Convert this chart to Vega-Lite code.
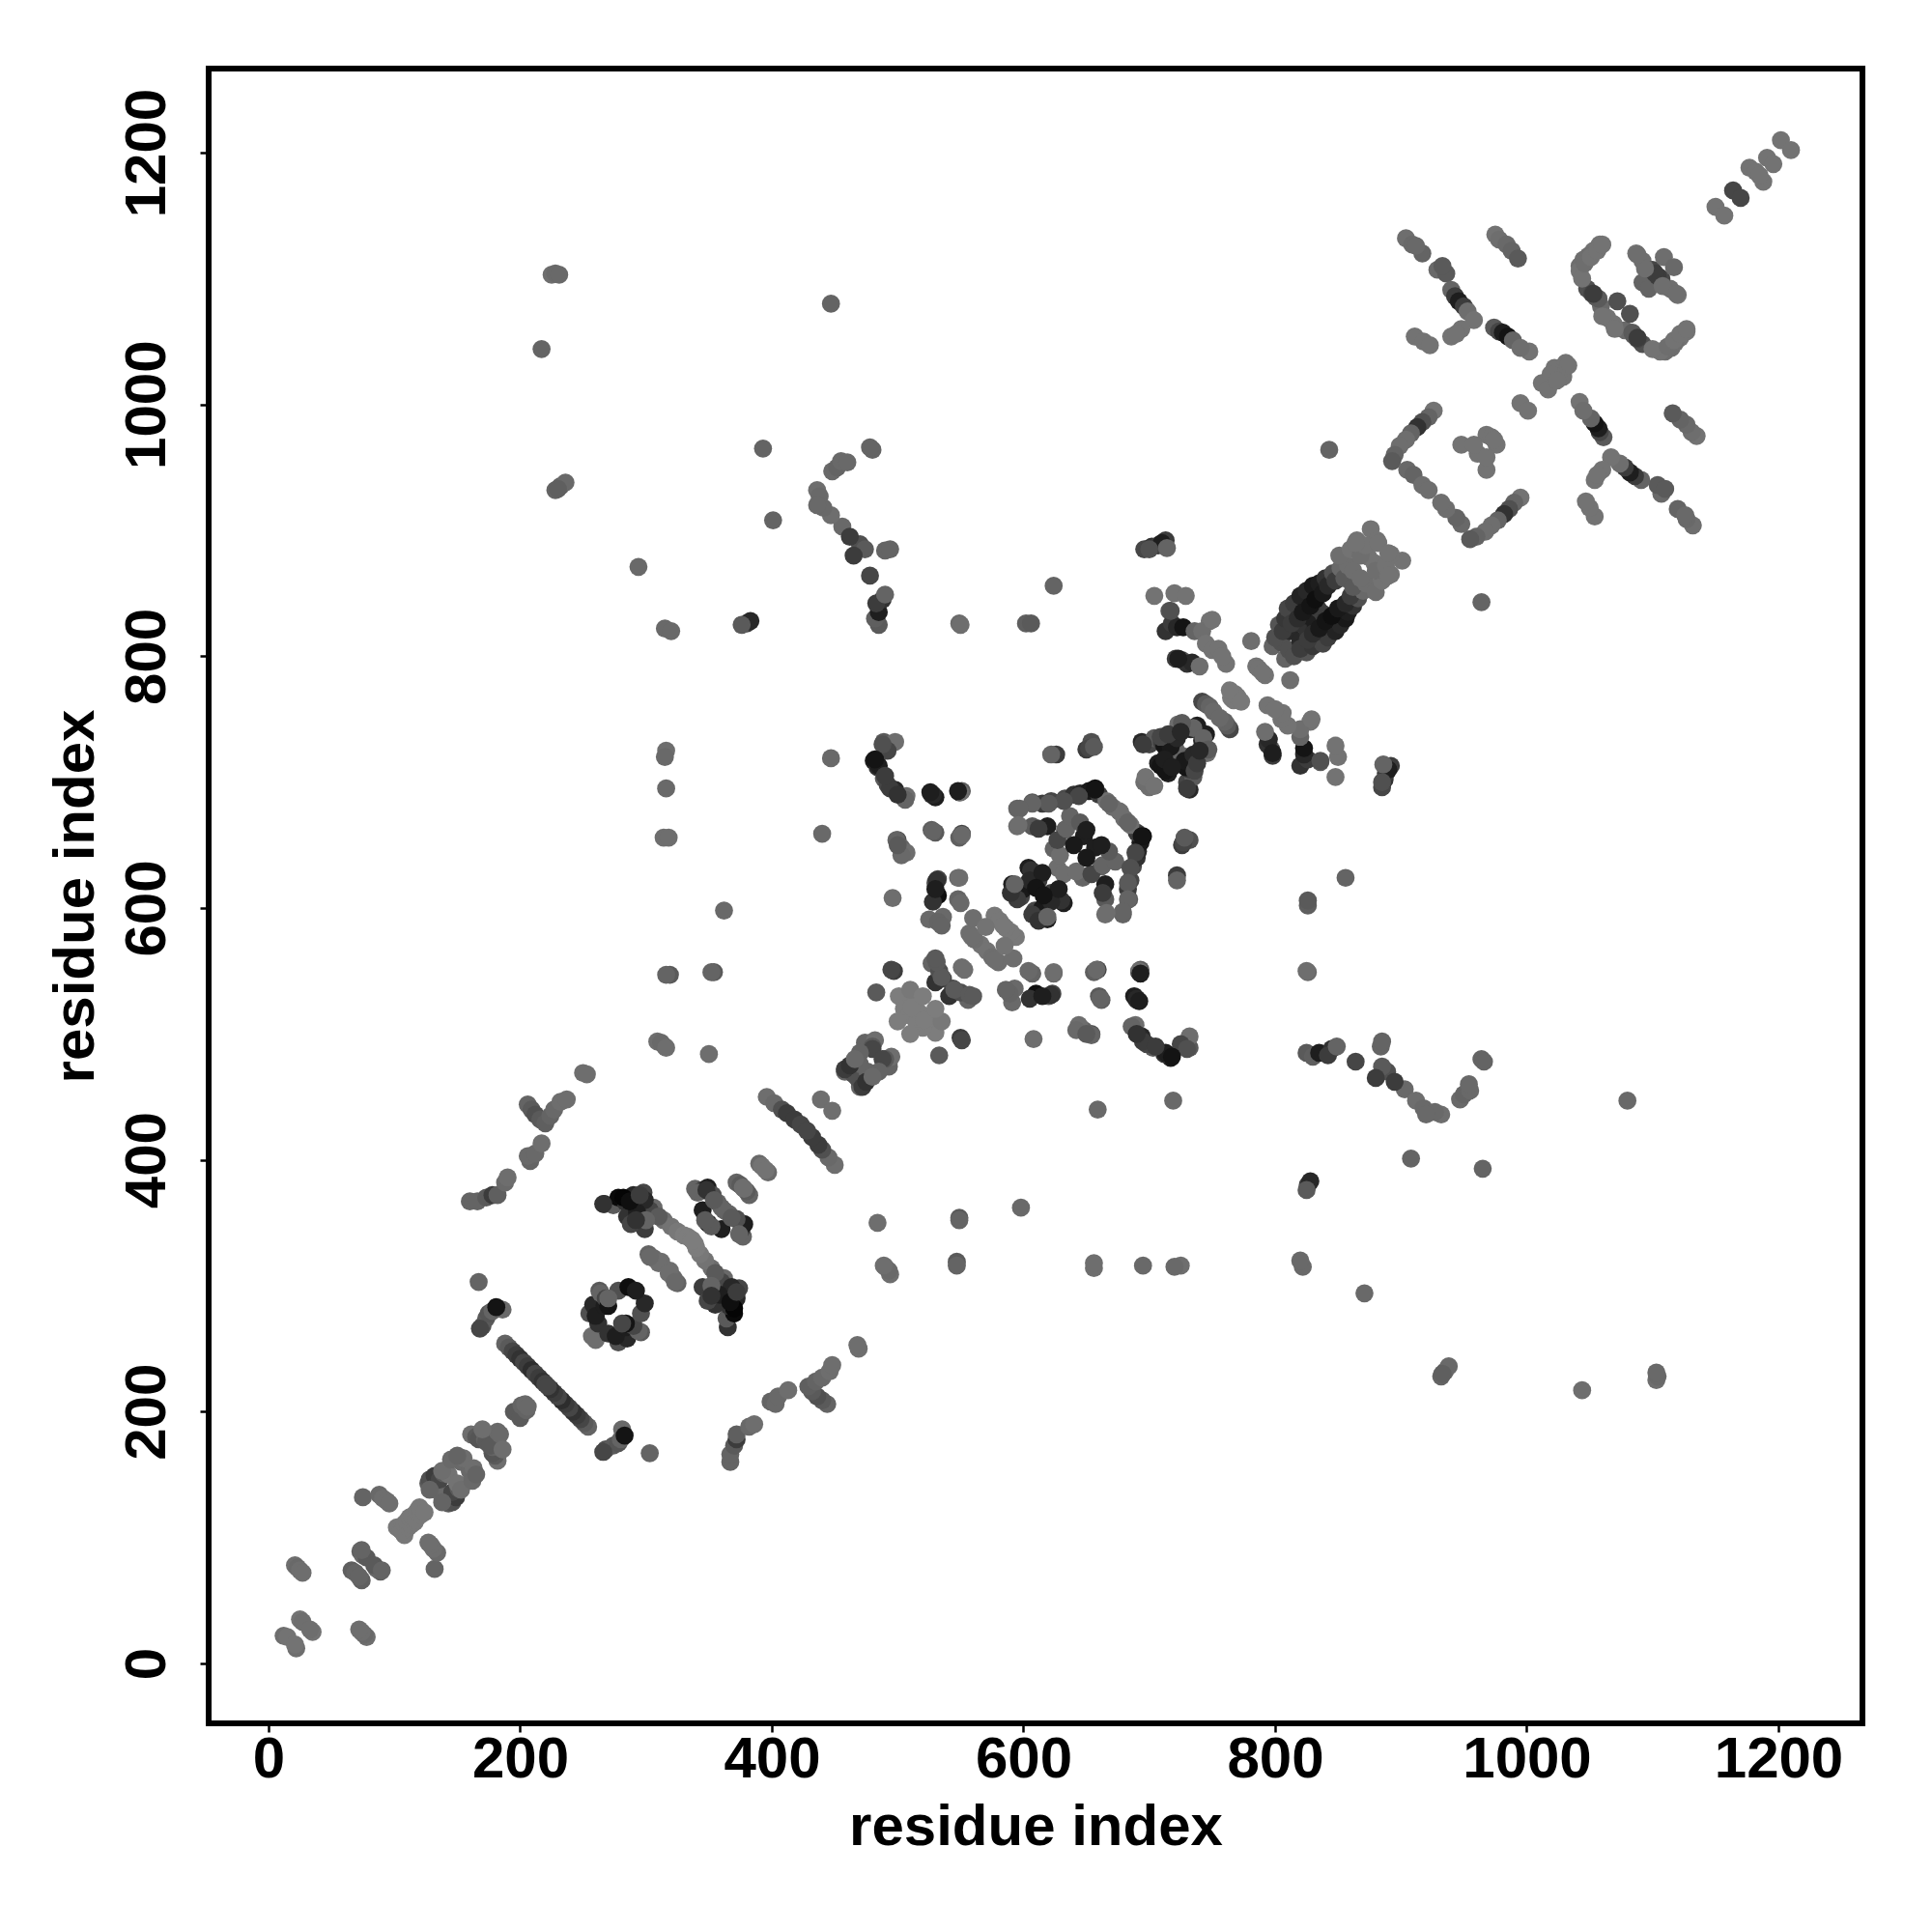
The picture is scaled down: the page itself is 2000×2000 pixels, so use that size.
{"$schema":"https://vega.github.io/schema/vega-lite/v6.json","autosize":"none","padding":{"left":216,"top":71,"right":72,"bottom":216},"width":1712,"height":1713,"background":"white","config":{"view":{"stroke":"#000000","strokeWidth":6},"axis":{"grid":false,"domain":false,"ticks":true,"tickColor":"#000000","tickWidth":2.5,"tickSize":9,"labelFont":"Liberation Sans","labelFontWeight":"bold","labelFontSize":60,"labelColor":"#000000","titleFont":"Liberation Sans","titleFontWeight":"bold","titleFontSize":60,"titleColor":"#000000"}},"data":{"values":[
{"x":12,"y":22,"g":110},{"x":22,"y":12,"g":110},{"x":15,"y":21,"g":115},{"x":21,"y":15,"g":115},{"x":25,"y":35,"g":115},{"x":35,"y":25,"g":115},{"x":27,"y":33,"g":110},{"x":33,"y":27,"g":110},
{"x":21,"y":78,"g":110},{"x":78,"y":21,"g":110},{"x":23,"y":76,"g":105},{"x":76,"y":23,"g":105},{"x":25,"y":74,"g":110},{"x":74,"y":25,"g":110},{"x":27,"y":72,"g":110},{"x":72,"y":27,"g":110},
{"x":66,"y":74,"g":95},{"x":74,"y":66,"g":95},{"x":69,"y":72,"g":100},{"x":72,"y":69,"g":100},{"x":73,"y":89,"g":95},{"x":89,"y":73,"g":95},{"x":75,"y":86,"g":105},{"x":86,"y":75,"g":105},{"x":78,"y":84,"g":90},{"x":84,"y":78,"g":90},{"x":74,"y":90,"g":100},{"x":90,"y":74,"g":100},
{"x":75,"y":132,"g":100},{"x":132,"y":75,"g":100},{"x":88,"y":134,"g":105},{"x":134,"y":88,"g":105},{"x":91,"y":131,"g":110},{"x":131,"y":91,"g":110},{"x":94,"y":129,"g":110},{"x":129,"y":94,"g":110},{"x":96,"y":127,"g":110},{"x":127,"y":96,"g":110},
{"x":102,"y":108,"g":120},{"x":108,"y":102,"g":120},{"x":105,"y":106,"g":120},{"x":106,"y":105,"g":120},{"x":108,"y":111,"g":120},{"x":111,"y":108,"g":120},{"x":110,"y":113,"g":120},{"x":113,"y":110,"g":120},{"x":112,"y":116,"g":120},{"x":116,"y":112,"g":120},{"x":114,"y":117,"g":120},{"x":117,"y":114,"g":120},{"x":118,"y":121,"g":120},{"x":121,"y":118,"g":120},{"x":120,"y":124,"g":120},{"x":124,"y":120,"g":120},
{"x":127,"y":143,"g":90},{"x":143,"y":127,"g":90},{"x":130,"y":141,"g":100},{"x":141,"y":130,"g":100},{"x":128,"y":146,"g":80},{"x":146,"y":128,"g":80},{"x":135,"y":137,"g":105},{"x":137,"y":135,"g":105},{"x":132,"y":149,"g":60},{"x":149,"y":132,"g":60},{"x":136,"y":146,"g":70},{"x":146,"y":136,"g":70},{"x":139,"y":151,"g":90},{"x":151,"y":139,"g":90},{"x":143,"y":150,"g":115},{"x":150,"y":143,"g":115},{"x":128,"y":138,"g":100},{"x":138,"y":128,"g":100},{"x":138,"y":153,"g":110},{"x":153,"y":138,"g":110},
{"x":153,"y":160,"g":105},{"x":160,"y":153,"g":105},{"x":155,"y":163,"g":110},{"x":163,"y":155,"g":110},{"x":145,"y":162,"g":105},{"x":162,"y":145,"g":105},{"x":150,"y":165,"g":100},{"x":165,"y":150,"g":100},{"x":161,"y":182,"g":110},{"x":182,"y":161,"g":110},{"x":165,"y":180,"g":90},{"x":180,"y":165,"g":90},{"x":167,"y":178,"g":85},{"x":178,"y":167,"g":85},{"x":172,"y":178,"g":100},{"x":178,"y":172,"g":100},{"x":173,"y":176,"g":90},{"x":176,"y":173,"g":90},{"x":182,"y":184,"g":105},{"x":184,"y":182,"g":105},{"x":170,"y":186,"g":110},{"x":186,"y":170,"g":110},
{"x":195,"y":200,"g":90},{"x":200,"y":195,"g":90},{"x":201,"y":205,"g":100},{"x":205,"y":201,"g":100},{"x":204,"y":206,"g":105},{"x":206,"y":204,"g":105},
{"x":188,"y":254,"g":100},{"x":254,"y":188,"g":100},{"x":191,"y":251,"g":90},{"x":251,"y":191,"g":90},{"x":194,"y":248,"g":70},{"x":248,"y":194,"g":70},{"x":197,"y":245,"g":60},{"x":245,"y":197,"g":60},{"x":200,"y":242,"g":50},{"x":242,"y":200,"g":50},{"x":203,"y":239,"g":70},{"x":239,"y":203,"g":70},{"x":206,"y":236,"g":60},{"x":236,"y":206,"g":60},{"x":209,"y":233,"g":45},{"x":233,"y":209,"g":45},{"x":212,"y":230,"g":70},{"x":230,"y":212,"g":70},{"x":215,"y":227,"g":60},{"x":227,"y":215,"g":60},{"x":218,"y":224,"g":50},{"x":224,"y":218,"g":50},{"x":220,"y":222,"g":70},{"x":222,"y":220,"g":70},
{"x":170,"y":268,"g":80},{"x":268,"y":170,"g":80},{"x":173,"y":274,"g":90},{"x":274,"y":173,"g":90},{"x":175,"y":278,"g":85},{"x":278,"y":175,"g":85},{"x":178,"y":280,"g":100},{"x":280,"y":178,"g":100},{"x":182,"y":282,"g":95},{"x":282,"y":182,"g":95},{"x":186,"y":281,"g":105},{"x":281,"y":186,"g":105},{"x":167,"y":303,"g":100},{"x":303,"y":167,"g":100},{"x":168,"y":266,"g":70},{"x":266,"y":168,"g":70},{"x":181,"y":283,"g":20},{"x":283,"y":181,"g":20},
{"x":160,"y":367,"g":100},{"x":367,"y":160,"g":100},{"x":166,"y":367,"g":100},{"x":367,"y":166,"g":100},{"x":173,"y":370,"g":90},{"x":370,"y":173,"g":90},{"x":178,"y":372,"g":60},{"x":372,"y":178,"g":60},{"x":182,"y":372,"g":95},{"x":372,"y":182,"g":95},{"x":188,"y":382,"g":105},{"x":382,"y":188,"g":105},{"x":190,"y":386,"g":110},{"x":386,"y":190,"g":110},
{"x":206,"y":444,"g":100},{"x":444,"y":206,"g":100},{"x":209,"y":440,"g":90},{"x":440,"y":209,"g":90},{"x":212,"y":436,"g":80},{"x":436,"y":212,"g":80},{"x":216,"y":432,"g":90},{"x":432,"y":216,"g":90},{"x":220,"y":429,"g":95},{"x":429,"y":220,"g":95},{"x":224,"y":435,"g":100},{"x":435,"y":224,"g":100},{"x":227,"y":440,"g":105},{"x":440,"y":227,"g":105},{"x":232,"y":446,"g":110},{"x":446,"y":232,"g":110},{"x":237,"y":448,"g":110},{"x":448,"y":237,"g":110},{"x":250,"y":469,"g":110},{"x":469,"y":250,"g":110},{"x":253,"y":468,"g":110},{"x":468,"y":253,"g":110},{"x":208,"y":399,"g":100},{"x":399,"y":208,"g":100},{"x":206,"y":403,"g":105},{"x":403,"y":206,"g":105},{"x":212,"y":405,"g":105},{"x":405,"y":212,"g":105},{"x":217,"y":413,"g":110},{"x":413,"y":217,"g":110},
{"x":257,"y":260,"g":110},{"x":260,"y":257,"g":110},{"x":263,"y":296,"g":90},{"x":296,"y":263,"g":90},{"x":255,"y":278,"g":80},{"x":278,"y":255,"g":80},{"x":258,"y":285,"g":40},{"x":285,"y":258,"g":40},{"x":262,"y":270,"g":50},{"x":270,"y":262,"g":50},{"x":260,"y":276,"g":30},{"x":276,"y":260,"g":30},{"x":267,"y":284,"g":30},{"x":284,"y":267,"g":30},{"x":264,"y":294,"g":100},{"x":294,"y":264,"g":100},{"x":268,"y":290,"g":70},{"x":290,"y":268,"g":70},{"x":270,"y":284,"g":20},{"x":284,"y":270,"g":20},{"x":278,"y":296,"g":80},{"x":296,"y":278,"g":80},{"x":286,"y":299,"g":15},{"x":299,"y":286,"g":40},{"x":292,"y":296,"g":30},{"x":281,"y":270,"g":70},{"x":270,"y":290,"g":100},
{"x":267,"y":365,"g":40},{"x":365,"y":267,"g":50},{"x":274,"y":364,"g":90},{"x":364,"y":274,"g":90},{"x":278,"y":370,"g":10},{"x":370,"y":278,"g":10},{"x":284,"y":366,"g":50},{"x":366,"y":284,"g":50},{"x":290,"y":372,"g":40},{"x":372,"y":290,"g":40},{"x":296,"y":368,"g":60},{"x":368,"y":296,"g":60},{"x":298,"y":374,"g":70},{"x":374,"y":298,"g":70},{"x":285,"y":355,"g":50},{"x":355,"y":285,"g":50},{"x":290,"y":350,"g":60},{"x":350,"y":290,"g":60},{"x":293,"y":360,"g":30},{"x":360,"y":293,"g":30},{"x":300,"y":355,"g":100},{"x":355,"y":300,"g":100},{"x":306,"y":362,"g":105},{"x":362,"y":306,"g":105},
{"x":314,"y":352,"g":110},{"x":352,"y":314,"g":110},{"x":320,"y":347,"g":115},{"x":347,"y":320,"g":115},{"x":325,"y":343,"g":120},{"x":343,"y":325,"g":120},{"x":330,"y":340,"g":125},{"x":340,"y":330,"g":125},{"x":333,"y":339,"g":125},{"x":339,"y":333,"g":125},{"x":336,"y":337,"g":125},{"x":337,"y":336,"g":125},
{"x":302,"y":325,"g":100},{"x":325,"y":302,"g":100},{"x":306,"y":322,"g":105},{"x":322,"y":306,"g":105},{"x":312,"y":319,"g":110},{"x":319,"y":312,"g":110},{"x":310,"y":318,"g":110},{"x":318,"y":310,"g":110},{"x":303,"y":323,"g":105},{"x":323,"y":303,"g":105},
{"x":339,"y":377,"g":100},{"x":377,"y":339,"g":100},{"x":345,"y":376,"g":60},{"x":376,"y":345,"g":60},{"x":349,"y":378,"g":30},{"x":378,"y":349,"g":30},{"x":353,"y":372,"g":80},{"x":372,"y":353,"g":80},{"x":357,"y":366,"g":100},{"x":366,"y":357,"g":100},{"x":362,"y":360,"g":100},{"x":360,"y":362,"g":100},{"x":349,"y":350,"g":40},{"x":350,"y":349,"g":40},{"x":345,"y":360,"g":30},{"x":360,"y":345,"g":30},{"x":352,"y":347,"g":90},{"x":347,"y":352,"g":90},{"x":341,"y":374,"g":100},{"x":374,"y":341,"g":100},{"x":348,"y":376,"g":50},{"x":354,"y":368,"g":90},{"x":368,"y":354,"g":90},
{"x":299,"y":345,"g":60},{"x":345,"y":299,"g":60},{"x":288,"y":349,"g":70},{"x":349,"y":288,"g":70},{"x":303,"y":360,"g":70},{"x":360,"y":303,"g":70},{"x":299,"y":368,"g":40},{"x":368,"y":299,"g":40},{"x":282,"y":370,"g":5},{"x":370,"y":282,"g":5},{"x":266,"y":365,"g":50},{"x":293,"y":358,"g":30},{"x":358,"y":293,"g":30},{"x":310,"y":355,"g":90},{"x":355,"y":310,"g":90},{"x":300,"y":352,"g":100},{"x":352,"y":300,"g":100},{"x":292,"y":352,"g":50},{"x":352,"y":292,"g":50},{"x":287,"y":367,"g":15},{"x":367,"y":287,"g":15},{"x":295,"y":372,"g":60},{"x":372,"y":295,"g":60},
{"x":372,"y":382,"g":100},{"x":382,"y":372,"g":100},{"x":375,"y":380,"g":90},{"x":380,"y":375,"g":90},{"x":377,"y":378,"g":110},{"x":378,"y":377,"g":110},{"x":390,"y":397,"g":105},{"x":397,"y":390,"g":105},{"x":392,"y":395,"g":115},{"x":395,"y":392,"g":115},
{"x":396,"y":450,"g":110},{"x":450,"y":396,"g":110},{"x":402,"y":445,"g":105},{"x":445,"y":402,"g":105},{"x":408,"y":440,"g":80},{"x":440,"y":408,"g":80},{"x":412,"y":437,"g":60},{"x":437,"y":412,"g":60},{"x":418,"y":432,"g":60},{"x":432,"y":418,"g":60},{"x":423,"y":428,"g":70},{"x":428,"y":423,"g":70},{"x":439,"y":448,"g":110},{"x":448,"y":439,"g":110},
{"x":458,"y":470,"g":100},{"x":470,"y":458,"g":100},{"x":465,"y":468,"g":80},{"x":468,"y":465,"g":80},{"x":470,"y":476,"g":100},{"x":476,"y":470,"g":100},{"x":458,"y":472,"g":60},{"x":472,"y":458,"g":60},{"x":462,"y":475,"g":50},{"x":475,"y":462,"g":50},{"x":474,"y":493,"g":100},{"x":493,"y":474,"g":100},{"x":482,"y":495,"g":110},{"x":495,"y":482,"g":110},{"x":480,"y":490,"g":90},{"x":490,"y":480,"g":90},{"x":480,"y":488,"g":70},{"x":488,"y":480,"g":70},{"x":470,"y":485,"g":100},{"x":485,"y":470,"g":100},{"x":466,"y":480,"g":105},{"x":480,"y":466,"g":105},
{"x":501,"y":530,"g":125},{"x":530,"y":501,"g":125},{"x":505,"y":520,"g":125},{"x":520,"y":505,"g":125},{"x":509,"y":515,"g":125},{"x":515,"y":509,"g":125},{"x":512,"y":525,"g":125},{"x":525,"y":512,"g":125},{"x":516,"y":518,"g":125},{"x":518,"y":516,"g":125},{"x":511,"y":521,"g":125},{"x":521,"y":511,"g":125},{"x":500,"y":510,"g":125},{"x":510,"y":500,"g":125},{"x":510,"y":535,"g":120},{"x":535,"y":510,"g":120},{"x":520,"y":530,"g":125},{"x":530,"y":520,"g":125},
{"x":497,"y":550,"g":60},{"x":550,"y":497,"g":60},{"x":495,"y":551,"g":70},{"x":551,"y":495,"g":70},{"x":483,"y":533,"g":90},{"x":533,"y":483,"g":90},{"x":350,"y":484,"g":110},{"x":484,"y":350,"g":110},{"x":315,"y":490,"g":110},{"x":490,"y":315,"g":110},{"x":309,"y":494,"g":110},{"x":494,"y":309,"g":110},{"x":312,"y":493,"g":105},{"x":493,"y":312,"g":105},{"x":316,"y":489,"g":110},{"x":489,"y":316,"g":110},{"x":354,"y":549,"g":90},{"x":549,"y":354,"g":90},{"x":352,"y":549,"g":100},{"x":549,"y":352,"g":100},{"x":319,"y":547,"g":90},{"x":547,"y":319,"g":90},{"x":316,"y":547,"g":100},{"x":547,"y":316,"g":100},
{"x":217,"y":1044,"g":100},{"x":1044,"y":217,"g":110},{"x":225,"y":1103,"g":110},{"x":1103,"y":225,"g":110},{"x":228,"y":1104,"g":105},{"x":1104,"y":228,"g":105},{"x":231,"y":1103,"g":105},{"x":1103,"y":231,"g":105},{"x":228,"y":932,"g":100},{"x":932,"y":228,"g":100},{"x":232,"y":935,"g":100},{"x":935,"y":232,"g":100},{"x":236,"y":938,"g":105},{"x":938,"y":236,"g":105},{"x":230,"y":933,"g":95},{"x":933,"y":230,"g":95},
{"x":447,"y":1080,"g":100},{"x":1080,"y":447,"g":105},{"x":393,"y":965,"g":100},{"x":965,"y":393,"g":100},{"x":401,"y":908,"g":100},{"x":908,"y":401,"g":100},{"x":294,"y":871,"g":105},{"x":871,"y":294,"g":105},{"x":315,"y":822,"g":105},{"x":822,"y":315,"g":105},{"x":320,"y":820,"g":105},{"x":820,"y":320,"g":105},{"x":380,"y":826,"g":60},{"x":826,"y":380,"g":60},{"x":383,"y":828,"g":40},{"x":828,"y":383,"g":40},{"x":376,"y":825,"g":90},{"x":825,"y":376,"g":90},
{"x":316,"y":725,"g":110},{"x":725,"y":316,"g":110},{"x":315,"y":720,"g":105},{"x":720,"y":315,"g":105},{"x":316,"y":695,"g":105},{"x":695,"y":316,"g":105},{"x":314,"y":656,"g":110},{"x":656,"y":314,"g":110},{"x":318,"y":656,"g":110},{"x":656,"y":318,"g":110},{"x":362,"y":598,"g":105},{"x":598,"y":362,"g":105},{"x":447,"y":719,"g":105},{"x":719,"y":447,"g":105},{"x":496,"y":608,"g":110},{"x":608,"y":496,"g":110},{"x":440,"y":659,"g":105},{"x":659,"y":440,"g":105},
{"x":485,"y":825,"g":90},{"x":825,"y":485,"g":90},{"x":482,"y":830,"g":95},{"x":830,"y":482,"g":95},{"x":485,"y":835,"g":30},{"x":835,"y":485,"g":30},{"x":488,"y":845,"g":50},{"x":845,"y":488,"g":50},{"x":483,"y":842,"g":60},{"x":842,"y":483,"g":60},{"x":478,"y":864,"g":70},{"x":864,"y":478,"g":70},{"x":490,"y":849,"g":100},{"x":849,"y":490,"g":100},{"x":490,"y":884,"g":100},{"x":884,"y":490,"g":100},{"x":470,"y":889,"g":80},{"x":889,"y":470,"g":80},{"x":474,"y":885,"g":90},{"x":885,"y":474,"g":90},{"x":465,"y":880,"g":60},{"x":880,"y":465,"g":60},{"x":456,"y":903,"g":105},{"x":903,"y":456,"g":105},{"x":462,"y":895,"g":60},{"x":895,"y":462,"g":60},{"x":447,"y":912,"g":110},{"x":912,"y":447,"g":110},{"x":441,"y":918,"g":105},{"x":918,"y":441,"g":105},{"x":436,"y":932,"g":110},{"x":932,"y":436,"g":110},{"x":438,"y":927,"g":105},{"x":927,"y":438,"g":105},{"x":448,"y":947,"g":105},{"x":947,"y":448,"g":105},{"x":452,"y":950,"g":100},{"x":950,"y":452,"g":100},{"x":455,"y":955,"g":105},{"x":955,"y":455,"g":105},{"x":460,"y":954,"g":105},{"x":954,"y":460,"g":105},{"x":480,"y":964,"g":100},{"x":964,"y":480,"g":100},{"x":478,"y":966,"g":100},{"x":966,"y":478,"g":100},{"x":436,"y":920,"g":105},{"x":920,"y":436,"g":105},{"x":494,"y":885,"g":100},{"x":885,"y":494,"g":100},
{"x":624,"y":856,"g":100},{"x":856,"y":624,"g":100},{"x":549,"y":826,"g":105},{"x":826,"y":549,"g":105},{"x":602,"y":826,"g":95},{"x":826,"y":602,"g":95},{"x":606,"y":826,"g":90},{"x":826,"y":606,"g":90},
{"x":696,"y":885,"g":70},{"x":885,"y":696,"g":70},{"x":702,"y":887,"g":50},{"x":887,"y":702,"g":50},{"x":707,"y":888,"g":60},{"x":888,"y":707,"g":60},{"x":713,"y":892,"g":60},{"x":892,"y":713,"g":60},{"x":710,"y":890,"g":30},{"x":890,"y":710,"g":30},{"x":714,"y":886,"g":100},{"x":886,"y":714,"g":100},{"x":700,"y":885,"g":80},{"x":885,"y":700,"g":80},
{"x":704,"y":848,"g":115},{"x":848,"y":704,"g":115},{"x":720,"y":850,"g":115},{"x":850,"y":720,"g":115},{"x":729,"y":848,"g":115},{"x":848,"y":729,"g":115},{"x":716,"y":836,"g":90},{"x":836,"y":716,"g":90},{"x":713,"y":820,"g":50},{"x":820,"y":713,"g":50},{"x":718,"y":826,"g":60},{"x":826,"y":718,"g":60},{"x":722,"y":823,"g":40},{"x":823,"y":722,"g":40},{"x":727,"y":823,"g":20},{"x":823,"y":727,"g":20},{"x":736,"y":820,"g":100},{"x":820,"y":736,"g":100},{"x":748,"y":828,"g":115},{"x":828,"y":748,"g":115},{"x":742,"y":820,"g":110},{"x":820,"y":742,"g":110},{"x":745,"y":810,"g":115},{"x":810,"y":745,"g":115},{"x":721,"y":798,"g":60},{"x":798,"y":721,"g":60},{"x":726,"y":797,"g":80},{"x":797,"y":726,"g":80},{"x":730,"y":794,"g":50},{"x":794,"y":730,"g":50},{"x":734,"y":795,"g":40},{"x":795,"y":734,"g":40},{"x":740,"y":792,"g":110},{"x":792,"y":740,"g":110},{"x":750,"y":805,"g":115},{"x":805,"y":750,"g":115},{"x":755,"y":806,"g":115},{"x":806,"y":755,"g":115},{"x":761,"y":794,"g":115},{"x":794,"y":761,"g":115},{"x":758,"y":800,"g":115},{"x":800,"y":758,"g":115},{"x":750,"y":829,"g":115},{"x":829,"y":750,"g":115},{"x":717,"y":836,"g":80},{"x":836,"y":717,"g":80},{"x":723,"y":798,"g":30},{"x":798,"y":723,"g":30},
{"x":781,"y":812,"g":110},{"x":812,"y":781,"g":110},{"x":785,"y":792,"g":115},{"x":792,"y":785,"g":115},{"x":787,"y":790,"g":115},{"x":790,"y":787,"g":115},{"x":765,"y":767,"g":120},{"x":767,"y":765,"g":120},{"x":768,"y":770,"g":120},{"x":770,"y":768,"g":120},{"x":764,"y":773,"g":120},{"x":773,"y":764,"g":120},{"x":742,"y":764,"g":70},{"x":764,"y":742,"g":70},{"x":745,"y":762,"g":90},{"x":762,"y":745,"g":90},{"x":748,"y":760,"g":100},{"x":760,"y":748,"g":100},{"x":751,"y":756,"g":105},{"x":756,"y":751,"g":105},
{"x":798,"y":808,"g":100},{"x":808,"y":798,"g":100},{"x":805,"y":811,"g":80},{"x":811,"y":805,"g":80},{"x":812,"y":820,"g":40},{"x":820,"y":812,"g":40},{"x":820,"y":826,"g":50},{"x":826,"y":820,"g":50},{"x":826,"y":832,"g":30},{"x":832,"y":826,"g":30},{"x":834,"y":838,"g":60},{"x":838,"y":834,"g":60},{"x":800,"y":815,"g":80},{"x":815,"y":800,"g":80},{"x":803,"y":825,"g":85},{"x":825,"y":803,"g":85},{"x":806,"y":820,"g":60},{"x":820,"y":806,"g":60},{"x":808,"y":830,"g":55},{"x":830,"y":808,"g":55},{"x":810,"y":838,"g":70},{"x":838,"y":810,"g":70},{"x":813,"y":826,"g":60},{"x":826,"y":813,"g":60},{"x":815,"y":842,"g":60},{"x":842,"y":815,"g":60},{"x":818,"y":830,"g":45},{"x":830,"y":818,"g":45},{"x":820,"y":848,"g":35},{"x":848,"y":820,"g":35},{"x":822,"y":835,"g":25},{"x":835,"y":822,"g":25},{"x":825,"y":852,"g":40},{"x":852,"y":825,"g":40},{"x":828,"y":840,"g":20},{"x":840,"y":828,"g":20},{"x":830,"y":856,"g":25},{"x":856,"y":830,"g":25},{"x":832,"y":845,"g":15},{"x":845,"y":832,"g":15},{"x":835,"y":858,"g":30},{"x":858,"y":835,"g":30},{"x":838,"y":850,"g":25},{"x":850,"y":838,"g":25},{"x":840,"y":862,"g":50},{"x":862,"y":840,"g":50},{"x":842,"y":856,"g":40},{"x":856,"y":842,"g":40},{"x":846,"y":866,"g":80},{"x":866,"y":846,"g":80},{"x":848,"y":860,"g":60},{"x":860,"y":848,"g":60},{"x":852,"y":870,"g":105},{"x":870,"y":852,"g":105},{"x":855,"y":862,"g":90},{"x":862,"y":855,"g":90},{"x":858,"y":872,"g":110},{"x":872,"y":858,"g":110},{"x":862,"y":868,"g":110},{"x":868,"y":862,"g":110},{"x":851,"y":880,"g":110},{"x":880,"y":851,"g":110},{"x":860,"y":885,"g":115},{"x":885,"y":860,"g":115},{"x":865,"y":892,"g":115},{"x":892,"y":865,"g":115},{"x":874,"y":879,"g":115},{"x":879,"y":874,"g":115},{"x":876,"y":901,"g":115},{"x":901,"y":876,"g":115},{"x":881,"y":892,"g":115},{"x":892,"y":881,"g":115},{"x":868,"y":880,"g":110},{"x":880,"y":868,"g":110},{"x":872,"y":888,"g":115},{"x":888,"y":872,"g":115},{"x":882,"y":890,"g":115},{"x":890,"y":882,"g":115},{"x":864,"y":890,"g":115},{"x":890,"y":864,"g":115},
{"x":694,"y":732,"g":40},{"x":732,"y":694,"g":40},{"x":700,"y":730,"g":70},{"x":730,"y":700,"g":70},{"x":704,"y":735,"g":90},{"x":735,"y":704,"g":90},{"x":710,"y":732,"g":60},{"x":732,"y":710,"g":60},{"x":721,"y":726,"g":100},{"x":726,"y":721,"g":100},{"x":733,"y":742,"g":40},{"x":742,"y":733,"g":40},{"x":738,"y":745,"g":30},{"x":745,"y":738,"g":30},{"x":735,"y":743,"g":100},{"x":743,"y":735,"g":100},{"x":723,"y":746,"g":110},{"x":746,"y":723,"g":110},{"x":712,"y":729,"g":20},{"x":729,"y":712,"g":20},{"x":726,"y":747,"g":90},{"x":747,"y":726,"g":90},{"x":717,"y":728,"g":25},{"x":728,"y":717,"g":25},{"x":707,"y":715,"g":30},{"x":715,"y":707,"g":30},{"x":709,"y":713,"g":20},{"x":713,"y":709,"g":20},{"x":696,"y":700,"g":110},{"x":700,"y":696,"g":110},{"x":697,"y":704,"g":115},{"x":704,"y":697,"g":115},{"x":695,"y":730,"g":60},{"x":730,"y":695,"g":60},{"x":709,"y":736,"g":70},{"x":736,"y":709,"g":70},{"x":722,"y":735,"g":40},{"x":735,"y":722,"g":40},{"x":715,"y":738,"g":60},{"x":738,"y":715,"g":60},{"x":725,"y":740,"g":40},{"x":740,"y":725,"g":40},{"x":712,"y":718,"g":30},{"x":718,"y":712,"g":30},
{"x":650,"y":726,"g":60},{"x":726,"y":650,"g":60},{"x":654,"y":732,"g":80},{"x":732,"y":654,"g":80},{"x":626,"y":722,"g":60},{"x":722,"y":626,"g":60},{"x":622,"y":722,"g":100},{"x":722,"y":622,"g":100},{"x":652,"y":727,"g":70},{"x":727,"y":652,"g":70},{"x":656,"y":728,"g":90},{"x":728,"y":656,"g":90},
{"x":595,"y":679,"g":100},{"x":679,"y":595,"g":100},{"x":595,"y":665,"g":110},{"x":665,"y":595,"g":110},{"x":607,"y":684,"g":90},{"x":684,"y":607,"g":90},{"x":615,"y":683,"g":60},{"x":683,"y":615,"g":60},{"x":622,"y":685,"g":70},{"x":685,"y":622,"g":70},{"x":633,"y":687,"g":75},{"x":687,"y":633,"g":75},{"x":640,"y":690,"g":50},{"x":690,"y":640,"g":50},{"x":645,"y":691,"g":40},{"x":691,"y":645,"g":40},{"x":652,"y":693,"g":25},{"x":693,"y":652,"g":25},{"x":657,"y":695,"g":20},{"x":695,"y":657,"g":20},{"x":660,"y":690,"g":60},{"x":690,"y":660,"g":60},{"x":666,"y":685,"g":110},{"x":685,"y":666,"g":110},{"x":671,"y":680,"g":110},{"x":680,"y":671,"g":110},{"x":676,"y":677,"g":110},{"x":677,"y":676,"g":110},{"x":668,"y":683,"g":100},{"x":683,"y":668,"g":100},
{"x":619,"y":665,"g":30},{"x":665,"y":619,"g":30},{"x":607,"y":665,"g":90},{"x":665,"y":607,"g":90},{"x":633,"y":662,"g":100},{"x":662,"y":633,"g":100},{"x":624,"y":647,"g":100},{"x":647,"y":624,"g":100},{"x":627,"y":632,"g":110},{"x":632,"y":627,"g":110},{"x":629,"y":642,"g":110},{"x":642,"y":629,"g":110},{"x":627,"y":654,"g":70},{"x":654,"y":627,"g":70},{"x":612,"y":663,"g":60},{"x":663,"y":612,"g":60},{"x":648,"y":657,"g":30},{"x":657,"y":648,"g":30},{"x":634,"y":663,"g":100},{"x":663,"y":634,"g":100},{"x":637,"y":673,"g":100},{"x":673,"y":637,"g":100},{"x":645,"y":668,"g":90},{"x":668,"y":645,"g":90},{"x":604,"y":632,"g":30},{"x":632,"y":604,"g":30},{"x":611,"y":622,"g":10},{"x":622,"y":611,"g":10},{"x":612,"y":622,"g":60},{"x":622,"y":612,"g":60},{"x":606,"y":630,"g":50},{"x":630,"y":606,"g":50},{"x":591,"y":619,"g":30},{"x":619,"y":591,"g":30},{"x":598,"y":609,"g":70},{"x":609,"y":598,"g":70},{"x":600,"y":615,"g":25},{"x":615,"y":600,"g":25},{"x":605,"y":622,"g":40},{"x":622,"y":605,"g":40},{"x":615,"y":628,"g":30},{"x":628,"y":615,"g":30},{"x":595,"y":607,"g":60},{"x":607,"y":595,"g":60},{"x":610,"y":616,"g":20},{"x":616,"y":610,"g":20},{"x":590,"y":612,"g":50},{"x":612,"y":590,"g":50},{"x":593,"y":619,"g":100},{"x":619,"y":593,"g":100},{"x":640,"y":650,"g":25},{"x":650,"y":640,"g":25},{"x":650,"y":662,"g":30},{"x":662,"y":650,"g":30},{"x":657,"y":694,"g":20},{"x":694,"y":657,"g":20},{"x":644,"y":689,"g":70},{"x":689,"y":644,"g":70},{"x":632,"y":685,"g":80},{"x":685,"y":632,"g":80},{"x":620,"y":683,"g":90},{"x":683,"y":620,"g":90},{"x":607,"y":683,"g":100},{"x":683,"y":607,"g":100},{"x":597,"y":679,"g":100},{"x":679,"y":597,"g":100},{"x":596,"y":666,"g":110},{"x":666,"y":596,"g":110},
{"x":550,"y":825,"g":110},{"x":825,"y":550,"g":110},
{"x":548,"y":624,"g":105},{"x":624,"y":548,"g":105},{"x":532,"y":623,"g":70},{"x":623,"y":532,"g":70},{"x":532,"y":610,"g":15},{"x":610,"y":532,"g":15},{"x":548,"y":607,"g":100},{"x":607,"y":548,"g":100},{"x":525,"y":591,"g":105},{"x":591,"y":525,"g":105},{"x":536,"y":593,"g":105},{"x":593,"y":536,"g":105},{"x":530,"y":620,"g":90},{"x":620,"y":530,"g":90},{"x":528,"y":605,"g":50},{"x":605,"y":528,"g":50},
{"x":527,"y":690,"g":60},{"x":690,"y":527,"g":60},{"x":530,"y":688,"g":30},{"x":688,"y":530,"g":30},{"x":551,"y":693,"g":90},{"x":693,"y":551,"g":90},{"x":549,"y":692,"g":40},{"x":692,"y":549,"g":40},{"x":527,"y":662,"g":95},{"x":662,"y":527,"g":95},{"x":530,"y":660,"g":90},{"x":660,"y":530,"g":90},{"x":551,"y":659,"g":70},{"x":659,"y":551,"g":70},{"x":549,"y":656,"g":95},{"x":656,"y":549,"g":95},{"x":500,"y":654,"g":80},{"x":654,"y":500,"g":80},{"x":503,"y":648,"g":100},{"x":648,"y":503,"g":100},{"x":507,"y":644,"g":110},{"x":644,"y":507,"g":110},
{"x":489,"y":732,"g":90},{"x":732,"y":489,"g":90},{"x":498,"y":732,"g":110},{"x":732,"y":498,"g":110},{"x":481,"y":717,"g":30},{"x":717,"y":481,"g":30},{"x":484,"y":712,"g":50},{"x":712,"y":484,"g":50},{"x":489,"y":703,"g":90},{"x":703,"y":489,"g":90},{"x":492,"y":698,"g":70},{"x":698,"y":492,"g":70},{"x":498,"y":694,"g":40},{"x":694,"y":498,"g":40},{"x":507,"y":689,"g":110},{"x":689,"y":507,"g":110},{"x":492,"y":725,"g":70},{"x":725,"y":492,"g":70},
{"x":577,"y":594,"g":120},{"x":594,"y":577,"g":120},{"x":581,"y":590,"g":120},{"x":590,"y":581,"g":120},{"x":586,"y":584,"g":120},{"x":584,"y":586,"g":120},{"x":557,"y":580,"g":110},{"x":580,"y":557,"g":110},{"x":566,"y":571,"g":115},{"x":571,"y":566,"g":115},{"x":561,"y":575,"g":110},{"x":575,"y":561,"g":110},{"x":559,"y":577,"g":110},{"x":577,"y":559,"g":110},{"x":560,"y":592,"g":110},{"x":592,"y":560,"g":110},{"x":570,"y":585,"g":115},{"x":585,"y":570,"g":115},
{"x":527,"y":556,"g":100},{"x":556,"y":527,"g":100},{"x":536,"y":544,"g":70},{"x":544,"y":536,"g":70},{"x":530,"y":541,"g":50},{"x":541,"y":530,"g":50},{"x":533,"y":550,"g":80},{"x":550,"y":533,"g":80},{"x":551,"y":553,"g":110},{"x":553,"y":551,"g":110},{"x":535,"y":545,"g":90},{"x":545,"y":535,"g":90},{"x":531,"y":557,"g":90},{"x":557,"y":531,"g":90},{"x":530,"y":560,"g":90},{"x":560,"y":530,"g":90},
{"x":550,"y":604,"g":105},{"x":604,"y":550,"g":105},{"x":549,"y":624,"g":110},{"x":624,"y":549,"g":110},{"x":532,"y":589,"g":100},{"x":589,"y":532,"g":100},{"x":586,"y":535,"g":100},{"x":535,"y":586,"g":100},{"x":531,"y":622,"g":50},{"x":622,"y":531,"g":50},{"x":530,"y":615,"g":30},{"x":615,"y":530,"g":30},
{"x":551,"y":658,"g":105},{"x":658,"y":551,"g":105},{"x":550,"y":692,"g":110},{"x":692,"y":550,"g":110},{"x":548,"y":693,"g":30},{"x":693,"y":548,"g":30},{"x":528,"y":661,"g":100},{"x":661,"y":528,"g":100},{"x":528,"y":690,"g":40},{"x":690,"y":528,"g":40},{"x":526,"y":692,"g":30},{"x":692,"y":526,"g":30},
{"x":503,"y":642,"g":105},{"x":642,"y":503,"g":105},{"x":499,"y":654,"g":100},{"x":654,"y":499,"g":100},{"x":500,"y":650,"g":90},{"x":650,"y":500,"g":90},{"x":506,"y":686,"g":100},{"x":686,"y":506,"g":100},{"x":494,"y":695,"g":60},{"x":695,"y":494,"g":60},{"x":500,"y":690,"g":50},{"x":690,"y":500,"g":50},{"x":485,"y":713,"g":30},{"x":713,"y":485,"g":30},{"x":490,"y":705,"g":60},{"x":705,"y":490,"g":60},{"x":488,"y":730,"g":80},{"x":730,"y":488,"g":80},{"x":482,"y":718,"g":20},{"x":718,"y":482,"g":20},
{"x":1150,"y":1157,"g":115},{"x":1157,"y":1150,"g":115},{"x":1164,"y":1170,"g":70},{"x":1170,"y":1164,"g":70},{"x":1177,"y":1188,"g":115},{"x":1188,"y":1177,"g":115},{"x":1182,"y":1185,"g":115},{"x":1185,"y":1182,"g":115},{"x":1191,"y":1196,"g":115},{"x":1196,"y":1191,"g":115},{"x":1202,"y":1210,"g":115},{"x":1210,"y":1202,"g":115},
{"x":904,"y":1132,"g":110},{"x":1132,"y":904,"g":110},{"x":909,"y":1127,"g":105},{"x":1127,"y":909,"g":105},{"x":917,"y":1120,"g":100},{"x":1120,"y":917,"g":100},{"x":912,"y":1126,"g":105},{"x":1126,"y":912,"g":105},{"x":929,"y":1107,"g":105},{"x":1107,"y":929,"g":105},{"x":936,"y":1104,"g":90},{"x":1104,"y":936,"g":90},{"x":933,"y":1110,"g":90},{"x":1110,"y":933,"g":90},{"x":940,"y":1091,"g":100},{"x":1091,"y":940,"g":100},{"x":943,"y":1086,"g":60},{"x":1086,"y":943,"g":60},{"x":946,"y":1082,"g":30},{"x":1082,"y":946,"g":30},{"x":950,"y":1078,"g":60},{"x":1078,"y":950,"g":60},{"x":953,"y":1074,"g":110},{"x":1074,"y":953,"g":110},{"x":958,"y":1067,"g":115},{"x":1067,"y":958,"g":115},{"x":974,"y":1061,"g":90},{"x":1061,"y":974,"g":90},{"x":978,"y":1058,"g":70},{"x":1058,"y":978,"g":70},{"x":981,"y":1057,"g":30},{"x":1057,"y":981,"g":30},{"x":985,"y":1054,"g":20},{"x":1054,"y":985,"g":20},{"x":989,"y":1051,"g":100},{"x":1051,"y":989,"g":100},{"x":1002,"y":1042,"g":115},{"x":1042,"y":1002,"g":115},{"x":995,"y":1045,"g":110},{"x":1045,"y":995,"g":110},
{"x":940,"y":1054,"g":115},{"x":1054,"y":940,"g":115},{"x":948,"y":1060,"g":115},{"x":1060,"y":948,"g":115},{"x":944,"y":1056,"g":115},{"x":1056,"y":944,"g":115},{"x":911,"y":1054,"g":115},{"x":1054,"y":911,"g":115},{"x":918,"y":1050,"g":115},{"x":1050,"y":918,"g":115},{"x":923,"y":1047,"g":115},{"x":1047,"y":923,"g":115},
{"x":975,"y":1135,"g":115},{"x":1135,"y":975,"g":115},{"x":978,"y":1131,"g":110},{"x":1131,"y":978,"g":110},{"x":984,"y":1127,"g":105},{"x":1127,"y":984,"g":105},{"x":988,"y":1122,"g":100},{"x":1122,"y":988,"g":100},{"x":993,"y":1116,"g":90},{"x":1116,"y":993,"g":90},
{"x":1058,"y":1127,"g":115},{"x":1127,"y":1058,"g":115},{"x":1053,"y":1122,"g":115},{"x":1122,"y":1053,"g":115},{"x":1049,"y":1118,"g":110},{"x":1118,"y":1049,"g":110},{"x":1042,"y":1110,"g":110},{"x":1110,"y":1042,"g":110},{"x":1045,"y":1115,"g":110},{"x":1115,"y":1045,"g":110},{"x":1048,"y":1092,"g":80},{"x":1092,"y":1048,"g":80},{"x":1052,"y":1088,"g":70},{"x":1088,"y":1052,"g":70},{"x":1055,"y":1085,"g":90},{"x":1085,"y":1055,"g":90},{"x":1059,"y":1078,"g":105},{"x":1078,"y":1059,"g":105},{"x":1064,"y":1069,"g":115},{"x":1069,"y":1064,"g":115},{"x":1060,"y":1070,"g":115},{"x":1070,"y":1060,"g":115},{"x":1072,"y":1082,"g":80},{"x":1082,"y":1072,"g":80},{"x":1084,"y":1057,"g":90},{"x":1057,"y":1084,"g":90},{"x":1088,"y":1053,"g":60},{"x":1053,"y":1088,"g":60},{"x":1106,"y":1042,"g":115},{"x":1042,"y":1106,"g":115},{"x":1100,"y":1044,"g":115},{"x":1044,"y":1100,"g":115},{"x":1112,"y":1046,"g":110},{"x":1046,"y":1112,"g":110},{"x":1117,"y":1051,"g":115},{"x":1051,"y":1117,"g":115},{"x":1122,"y":1056,"g":115},{"x":1056,"y":1122,"g":115},{"x":1127,"y":1060,"g":115},{"x":1060,"y":1127,"g":115},
{"x":1087,"y":1120,"g":115},{"x":1120,"y":1087,"g":115},{"x":1092,"y":1114,"g":110},{"x":1114,"y":1092,"g":110},{"x":1100,"y":1107,"g":70},{"x":1107,"y":1100,"g":70},{"x":1096,"y":1100,"g":90},{"x":1100,"y":1096,"g":90},{"x":1092,"y":1097,"g":100},{"x":1097,"y":1092,"g":100},{"x":1104,"y":1102,"g":60},{"x":1102,"y":1104,"g":60},{"x":1108,"y":1094,"g":110},{"x":1094,"y":1108,"g":110},{"x":1109,"y":1117,"g":110},{"x":1117,"y":1109,"g":105},{"x":1119,"y":1088,"g":110},{"x":1088,"y":1119,"g":110},
{"x":1012,"y":1017,"g":115},{"x":1017,"y":1012,"g":115},{"x":1022,"y":1029,"g":115},{"x":1029,"y":1022,"g":115},{"x":1031,"y":1033,"g":115},{"x":1033,"y":1031,"g":115},{"x":1022,"y":1025,"g":115},{"x":1025,"y":1022,"g":115},{"x":1019,"y":1024,"g":115},{"x":1024,"y":1019,"g":115},{"x":995,"y":1001,"g":115},{"x":1001,"y":995,"g":115},
{"x":926,"y":995,"g":115},{"x":995,"y":926,"g":115},{"x":922,"y":990,"g":100},{"x":990,"y":922,"g":100},{"x":917,"y":986,"g":80},{"x":986,"y":917,"g":80},{"x":913,"y":982,"g":50},{"x":982,"y":913,"g":50},{"x":908,"y":977,"g":100},{"x":977,"y":908,"g":100},{"x":904,"y":972,"g":110},{"x":972,"y":904,"g":110},{"x":899,"y":967,"g":110},{"x":967,"y":899,"g":110},{"x":895,"y":960,"g":100},{"x":960,"y":895,"g":100},{"x":893,"y":955,"g":90},{"x":955,"y":893,"g":90},{"x":905,"y":948,"g":105},{"x":948,"y":905,"g":105},{"x":910,"y":944,"g":100},{"x":944,"y":910,"g":100},{"x":917,"y":936,"g":110},{"x":936,"y":917,"g":110},{"x":922,"y":932,"g":110},{"x":932,"y":922,"g":110},
{"x":948,"y":968,"g":115},{"x":968,"y":948,"g":115},{"x":968,"y":976,"g":115},{"x":976,"y":968,"g":115},{"x":972,"y":974,"g":115},{"x":974,"y":972,"g":115},{"x":961,"y":961,"g":115},{"x":958,"y":968,"g":115},{"x":968,"y":958,"g":115},
{"x":843,"y":964,"g":100},{"x":964,"y":843,"g":100}
]},"mark":{"type":"point","filled":true,"size":350,"opacity":1},"encoding":{"x":{"field":"x","type":"quantitative","scale":{"domain":[-47.6,1266.8],"nice":false,"zero":false},"axis":{"values":[0,200,400,600,800,1000,1200],"format":"d","title":"residue index","labelPadding":-1,"titlePadding":11,"labelFlush":false,"labelOverlap":false}},"y":{"field":"y","type":"quantitative","scale":{"domain":[-47.6,1266.8],"nice":false,"zero":false},"axis":{"values":[0,200,400,600,800,1000,1200],"format":"d","title":"residue index","labelAngle":-90,"labelAlign":"center","labelBaseline":"alphabetic","labelPadding":37,"titlePadding":13,"labelOverlap":false}},"color":{"field":"g","type":"quantitative","scale":{"domain":[0,255],"range":["#000000","#ffffff"],"interpolate":"rgb"},"legend":null}}}
